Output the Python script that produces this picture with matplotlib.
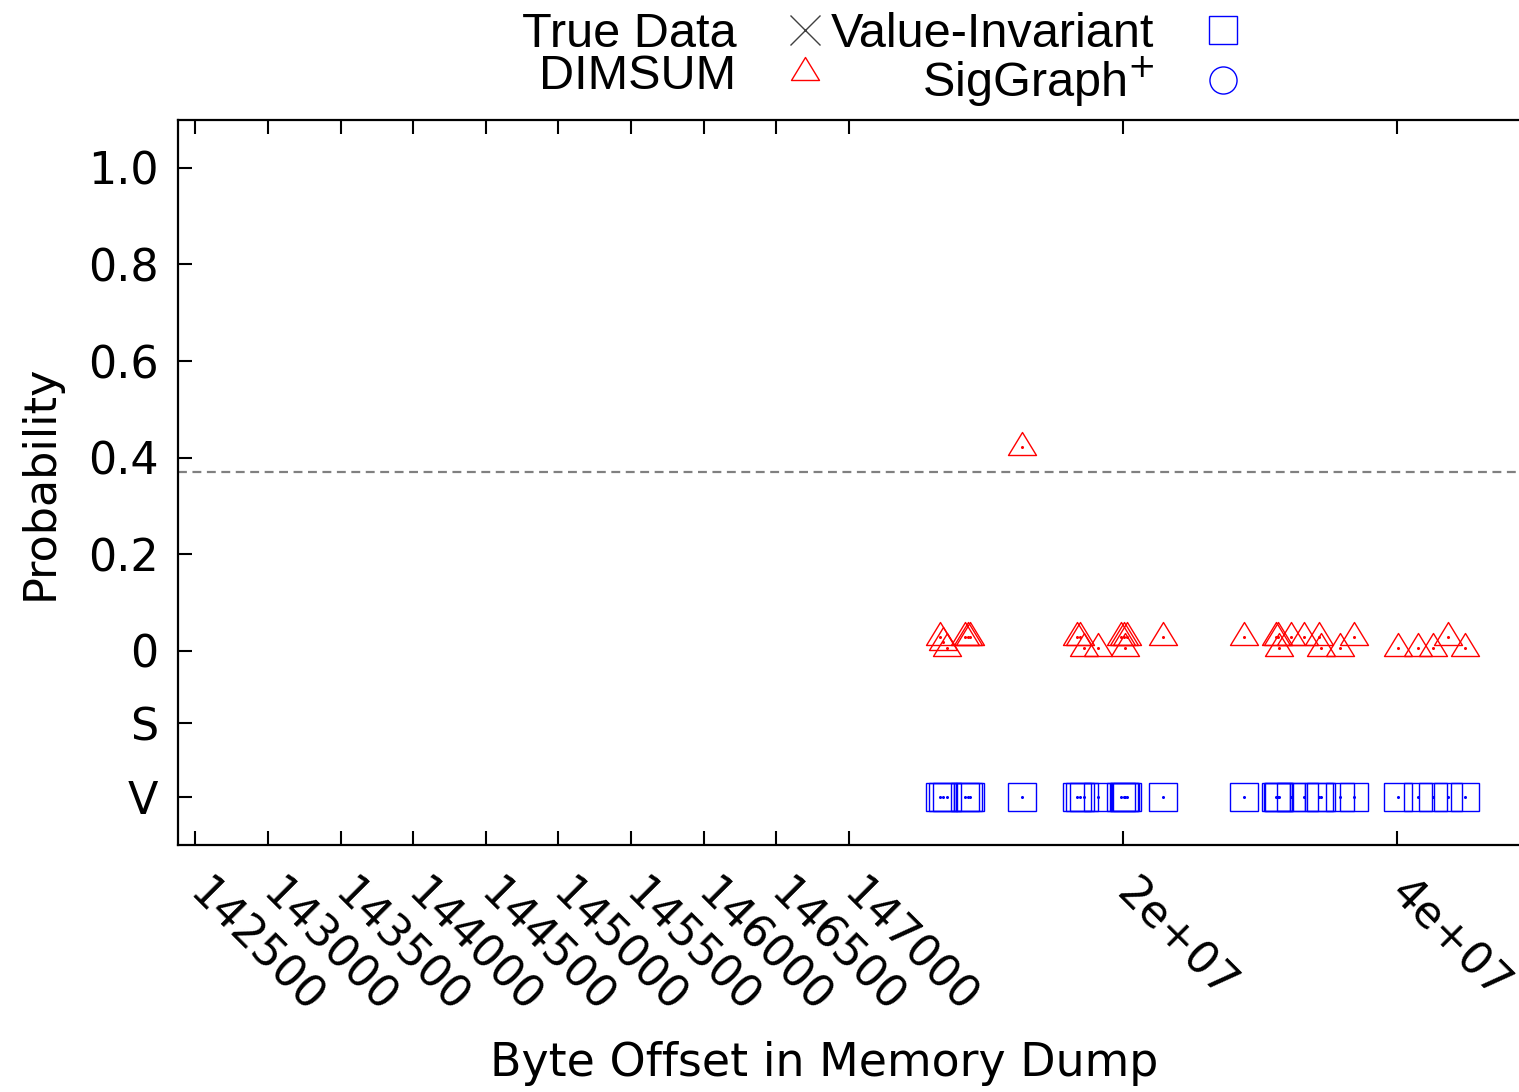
import numpy as np
import matplotlib
matplotlib.use("Agg")
import matplotlib.pyplot as plt
from matplotlib.path import Path

# byte offsets of detected objects, in millions of bytes
offsets_mb = [6.64, 6.86, 7.15, 8.47, 8.69, 8.83, 12.63, 16.64, 16.86, 17.15,
              18.18, 19.85, 20.07, 20.14, 20.29, 22.92, 28.83, 31.20, 31.31, 31.38,
              32.26, 33.21, 34.31, 34.45, 35.84, 36.86, 40.07, 41.53, 42.63, 43.72, 44.96]
# DIMSUM probability for each offset
dimsum_prob = [0.029, 0.018, 0.006, 0.029, 0.029, 0.029, 0.422, 0.029, 0.029, 0.006,
               0.006, 0.029, 0.029, 0.006, 0.029, 0.029, 0.029, 0.029, 0.029, 0.006,
               0.029, 0.029, 0.029, 0.006, 0.006, 0.029, 0.006, 0.006, 0.006, 0.029, 0.006]
true_offsets = []      # no true data points drawn
siggraph_offsets = []  # no SigGraph+ hits drawn
threshold = 0.37

xtick_vals = [142500, 143000, 143500, 144000, 144500, 145000, 145500, 146000,
              146500, 147000, 2e7, 4e7]
xtick_labels = ["142500", "143000", "143500", "144000", "144500", "145000", "145500",
                "146000", "146500", "147000", "2e+07", "4e+07"]
ytick_labels = ["1.0", "0.8", "0.6", "0.4", "0.2", "0", "S", "V"]
ROW_S, ROW_V = -0.15, -0.302
ytick_vals = [1.0, 0.8, 0.6, 0.4, 0.2, 0.0, ROW_S, ROW_V]

# broken x axis: small offsets on the left, full dump on the right
K = 72.6 / 274.0
def fwd(x):
    x = np.asarray(x, dtype=float)
    return np.where(x <= 147000, (x - 147000) / 500.0 * K, x / 2e7)
def inv(u):
    u = np.asarray(u, dtype=float)
    return np.where(u <= 0, 147000 + u / K * 500.0, u * 2e7)

offsets = np.array(offsets_mb) * 1e6

# triangle with the data point on its centroid (gnuplot style)
tri = Path([(0, 15), (-14, -8), (14, -8), (0, 15)], closed=True)

fig = plt.figure(figsize=(15.19, 10.92), dpi=100)
ax = fig.add_axes([178 / 1519, 247 / 1092, 1 - 178 / 1519, 725 / 1092])
ax.set_xscale("function", functions=(fwd, inv))

ax.axhline(threshold, color="#808080", lw=1.6, ls=(0, (4, 2.5)))

ax.plot(true_offsets, [], ls="none", marker="x", ms=21, mew=1.0, color="#404040",
        label="True Data")
ax.plot(offsets, dimsum_prob, ls="none", marker=tri, ms=21.6, mew=1.0, mfc="none",
        mec="#ff0000", label="DIMSUM")
ax.plot(offsets, dimsum_prob, ls="none", marker="o", ms=1.2, color="#ff0000")
ax.plot(offsets, [ROW_V] * len(offsets), ls="none", marker="s", ms=20.2, mew=1.0,
        mfc="none", mec="#0000ff", label="Value-Invariant")
ax.plot(offsets, [ROW_V] * len(offsets), ls="none", marker="o", ms=1.2, color="#0000ff")
ax.plot(siggraph_offsets, [], ls="none", marker="o", ms=19.5, mew=1.0, mfc="none",
        mec="#0000ff", label="SigGraph$^{+}$")

ax.set_xlim(142380, 4.89e7)
ax.set_ylim(-0.402, 1.099)

ax.set_xticks(xtick_vals)
ax.set_xticklabels(xtick_labels, rotation=-45, ha="left", va="center",
                   rotation_mode="anchor", fontsize=32)
ax.set_yticks(ytick_vals)
ax.set_yticklabels(ytick_labels, fontsize=32)
ax.xaxis.set_minor_locator(plt.NullLocator())
ax.tick_params(axis="x", direction="in", length=10, width=1.5, top=True, pad=30)
ax.tick_params(axis="y", direction="in", length=10, width=1.5, pad=14)
for s in ["left", "bottom", "top"]:
    ax.spines[s].set_linewidth(1.6)
ax.spines["right"].set_visible(False)

ax.set_xlabel("Byte Offset in Memory Dump", fontsize=33)
ax.xaxis.set_label_coords(0.4817, -0.271)
ax.set_ylabel("Probability", fontsize=32)
ax.yaxis.set_label_coords(-0.087, 0.5)

handles, labels = ax.get_legend_handles_labels()
leg = fig.legend(handles, labels, ncol=2, markerfirst=False, frameon=False,
                 loc="upper center", bbox_to_anchor=(882 / 1519, 0.998),
                 prop={"family": "Liberation Sans", "size": 35},
                 handlelength=0.8, handletextpad=1.0, columnspacing=0.15,
                 labelspacing=-0.05, borderaxespad=0, borderpad=0.2)

fig.savefig("out.png", dpi=100)
